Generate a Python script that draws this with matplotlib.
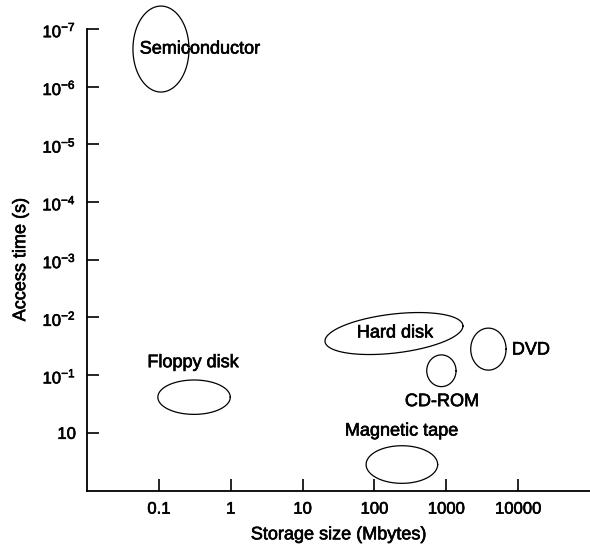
import numpy as np
import matplotlib
matplotlib.use("Agg")
import matplotlib.pyplot as plt
import matplotlib.patheffects as pe

plt.rcParams['font.family'] = ['Liberation Sans', 'DejaVu Sans']
plt.rcParams['mathtext.fontset'] = 'custom'
plt.rcParams['mathtext.rm'] = 'Liberation Sans'
plt.rcParams['mathtext.it'] = 'Liberation Sans:italic'
plt.rcParams['mathtext.default'] = 'regular'

# storage devices: centre size (Mbytes), centre access position (decade rows),
# spread in size (decades) and in access (rows), tilt of the hard disk blob
devices = ['Semiconductor', 'Hard disk', 'DVD', 'CD-ROM', 'Floppy disk', 'Magnetic tape']
size_mb = [0.107, 187, 3855, 855, 0.309, 241]
access_row = [7.65, 2.72, 2.45, 2.075, 1.617, 0.45]
size_spread = [0.39, 0.96, 0.246, 0.204, 0.504, 0.498]
access_spread = [0.745, 0.34, 0.364, 0.275, 0.298, 0.326]
tilt = [0, 0.13, 0, 0, 0, 0]

label_x = [0.372, 194, 8170, 865, 0.30, 238]
label_y = [7.65, 2.73, 2.435, 1.54, 2.215, 1.03]
label_ha = ['center', 'center', 'left', 'center', 'center', 'center']

x_ticks = [0.1, 1, 10, 100, 1000, 10000]
x_tick_labels = ['0.1', '1', '10', '100', '1000', '10000']
y_ticks = [1, 2, 3, 4, 5, 6, 7, 8]
y_tick_labels = ['10', '$10^{-1}$', '$10^{-2}$', '$10^{-3}$', '$10^{-4}$',
                 '$10^{-5}$', '$10^{-6}$', '$10^{-7}$']

# printed text looks a bit heavier than regular weight
heavy = [pe.withStroke(linewidth=0.45, foreground='black')]

fig = plt.figure(figsize=(5.9, 5.46), dpi=100)
ax = fig.add_axes([87 / 590, 55.5 / 546, 503 / 590, 490.5 / 546])
ax.set_xscale('log')
ax.set_xlim(1e-2, 1e5)
ax.set_ylim(0, 8.5)

t = np.linspace(0, 2 * np.pi, 300)
for cx, cy, a, b, s in zip(size_mb, access_row, size_spread, access_spread, tilt):
    lx = np.log10(cx) + a * np.cos(t)
    y = cy + b * np.sin(t) + s * np.cos(t)
    ax.plot(10 ** lx, y, color='black', lw=0.9, clip_on=False)

for name, x, y, ha in zip(devices, label_x, label_y, label_ha):
    ax.text(x, y, name, ha=ha, va='center', fontsize=13, path_effects=heavy)

ax.set_xticks(x_ticks)
ax.set_xticklabels(x_tick_labels)
ax.minorticks_off()
ax.set_yticks(y_ticks)
ax.set_yticklabels(y_tick_labels)
ax.tick_params(direction='in', length=8.5, width=1.2, labelsize=12, pad=8)
for lab in ax.get_xticklabels() + ax.get_yticklabels():
    lab.set_path_effects(heavy)

for side in ['top', 'right']:
    ax.spines[side].set_visible(False)
ax.spines['left'].set_bounds(0, 8)
ax.spines['left'].set_linewidth(1.3)
ax.spines['bottom'].set_linewidth(1.3)

ax.set_xlabel('Storage size (Mbytes)', fontsize=13, labelpad=7, path_effects=heavy)
ax.set_ylabel('Access time (s)', fontsize=13, path_effects=heavy)
ax.yaxis.set_label_coords(-0.115, 4 / 8.5)

fig.savefig('out.png', dpi=100)
